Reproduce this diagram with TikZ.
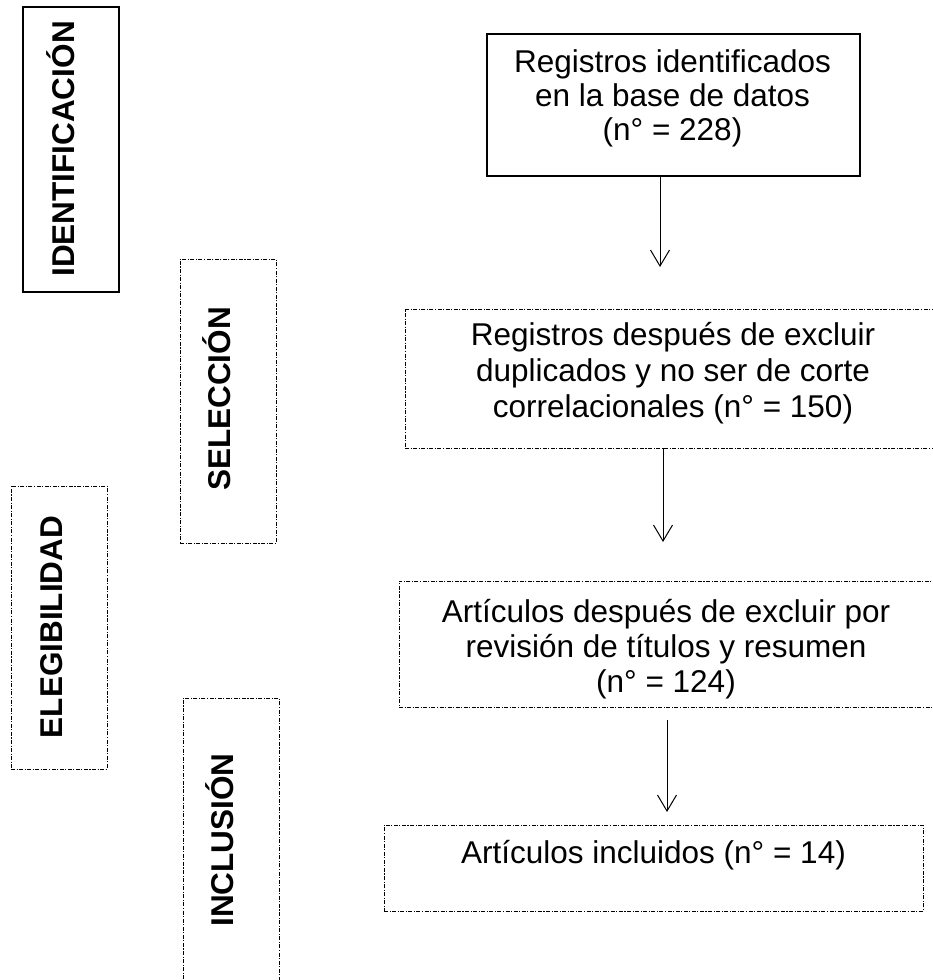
\documentclass[tikz,border=0pt]{standalone}
\usepackage{fontspec}
\setmainfont{Liberation Sans}
\usetikzlibrary{arrows.meta}
\begin{document}
\begin{tikzpicture}[x=1pt,y=-1pt,
  solidbox/.style={draw=black,line width=1.6pt,inner sep=0pt,outer sep=0pt},
  dashbox/.style={draw=black,line width=1pt,inner sep=0pt,outer sep=0pt,
    dash pattern=on 4pt off 1.5pt on 1.1pt off 1.5pt},
  txt/.style={inner sep=0pt,anchor=base,font=\fontsize{31.5}{36}\selectfont},
  lbl/.style={inner sep=0pt,anchor=base,rotate=90,font=\fontsize{31.5}{36}\selectfont\bfseries},
  arr/.style={draw=black,line width=1pt,-{Straight Barb[length=16pt,width=19pt]}}]
\useasboundingbox (0,0) rectangle (933,980);
\fill[white] (0,0) rectangle (933,980);

% phase boxes
\node[solidbox,minimum width=96pt,minimum height=285pt] (bid) at (71,149.5) {};
\node[dashbox,minimum width=96pt,minimum height=284pt] (bsel) at (228,401) {};
\node[dashbox,minimum width=96pt,minimum height=283pt] (bel) at (59,627.5) {};
\node[dashbox,minimum width=96pt,minimum height=284pt] (binc) at (231,840) {};

\node[lbl] (lid) at (74,149) {IDENTIFICACIÓN};
\node[lbl] (lsel) at (230,399) {SELECCIÓN};
\node[lbl] (lel) at (62,627) {ELEGIBILIDAD};
\node[lbl] (linc) at (233,840) {INCLUSIÓN};

% flow boxes
\node[solidbox,minimum width=373pt,minimum height=142pt] (b1) at (673.5,105) {};
\node[dashbox,minimum width=536pt,minimum height=139pt] (b2) at (673,378.5) {};
\node[dashbox,minimum width=538pt,minimum height=126pt] (b3) at (668,644) {};
\node[dashbox,minimum width=539pt,minimum height=86pt] (b4) at (653.5,868) {};

\node[txt] (t1a) at (672.5,72) {Registros identificados};
\node[txt] (t1b) at (672.5,106) {en la base de datos};
\node[txt] (t1c) at (672.5,140) {(n° = 228)};

\node[txt] (t2a) at (673,345) {Registros después de excluir};
\node[txt] (t2b) at (673,381) {duplicados y no ser de corte};
\node[txt] (t2c) at (673,417) {correlacionales (n° = 150)};

\node[txt] (t3a) at (666,622) {Artículos después de excluir por};
\node[txt] (t3b) at (666,657) {revisión de títulos y resumen};
\node[txt] (t3c) at (666,692) {(n° = 124)};

\node[txt] (t4a) at (653.5,863) {Artículos incluidos (n° = 14)};

% connectors
\coordinate (e1) at (660,267);
\coordinate (e2) at (663,542);
\coordinate (s3) at (667,720);
\coordinate (e3) at (667,812);
\draw[arr] (e1 |- b1.south) -- (e1);
\draw[arr] (e2 |- b2.south) -- (e2);
\draw[arr] (s3) -- (e3);
\end{tikzpicture}
\end{document}
